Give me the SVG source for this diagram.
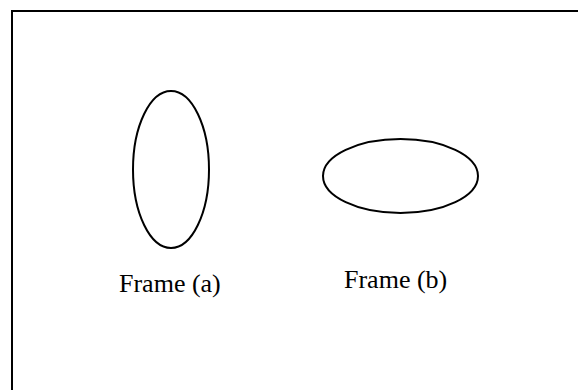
<svg xmlns="http://www.w3.org/2000/svg" width="578" height="390" viewBox="0 0 578 390">
<style>
.shape{fill:none;stroke:#000;stroke-width:2}
.lbl{font-family:"Liberation Serif","Times New Roman",serif;font-size:26px;fill:#000}
</style>
<rect x="0" y="0" width="578" height="390" fill="#fff"/>
<rect class="shape" x="12" y="11" width="600" height="400"/>
<g id="frame-a">
<ellipse class="shape" cx="171" cy="169.5" rx="38" ry="78.5"/>
<text class="lbl" x="119" y="292">Frame (a)</text>
</g>
<g id="frame-b">
<ellipse class="shape" cx="400.5" cy="176" rx="77.5" ry="37"/>
<text class="lbl" x="344" y="288">Frame (b)</text>
</g>
<g id="connectors"></g>
</svg>
